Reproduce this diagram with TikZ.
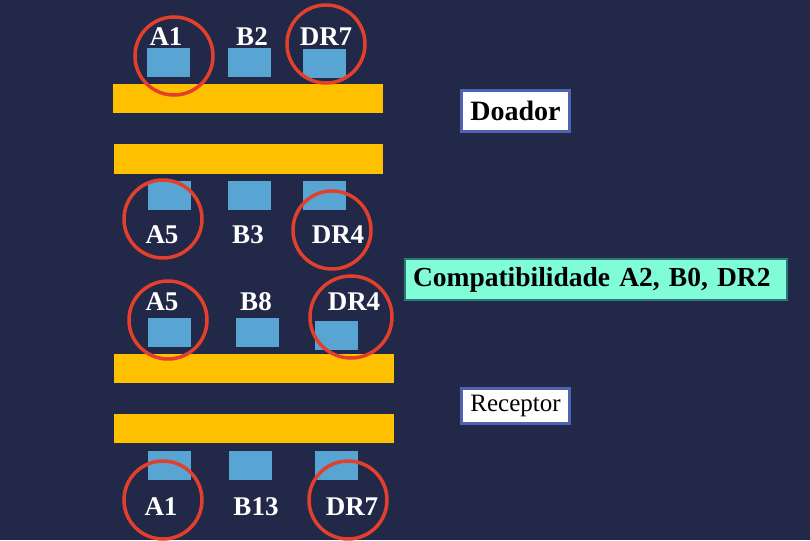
\documentclass[tikz,border=0pt]{standalone}
\usepackage{fontspec}
\setmainfont{Liberation Serif}
\usepackage{tikz}
\usetikzlibrary{shapes,positioning,calc}
\definecolor{fundo}{RGB}{34,40,72}
\definecolor{ouro}{RGB}{255,192,0}
\definecolor{azulhla}{RGB}{88,164,210}
\definecolor{vermelho}{RGB}{226,64,44}
\definecolor{bordaazul}{RGB}{80,98,178}
\definecolor{agua}{RGB}{128,252,214}
\definecolor{bordaagua}{RGB}{44,120,120}
\tikzstyle{barra} = [rectangle, fill=ouro, inner sep=0pt, minimum height=29pt]
\tikzstyle{antigeno} = [rectangle, fill=azulhla, inner sep=0pt, minimum width=43pt, minimum height=29pt]
\tikzstyle{alelo} = [text=white, font=\bfseries\fontsize{27}{27}\selectfont, inner sep=0pt]
\tikzstyle{marca} = [circle, draw=vermelho, line width=3.5pt, minimum size=78pt, inner sep=0pt]
\tikzstyle{rotulo} = [rectangle, fill=white, draw=bordaazul, line width=3pt, minimum width=108pt, inner sep=0pt, text=black]

\begin{document}
\begin{tikzpicture}[x=1pt,y=-1pt]
	\fill[fundo] (0,0) rectangle (810,540);
	\useasboundingbox (0,0) rectangle (810,540);
	% doador
	\node (b1) at (248,98.5) [barra, minimum width=270pt] {};
	\node (b2) at (248.5,159) [barra, minimum width=269pt] {};
	\node (sA1) at (168,62.5) [antigeno] {};
	\node (sB2) at (249,62.5) [antigeno] {};
	\node (sDR7) at (324.5,64) [antigeno] {};
	\node (sA5) at (169.5,195) [antigeno] {};
	\node (sB3) at (249,195) [antigeno] {};
	\node (sDR4) at (324.5,195) [antigeno] {};
	\node (tA1) at (166,37) [alelo] {A1};
	\node (tB2) at (252,37) [alelo] {B2};
	\node (tDR7) at (326,37) [alelo] {DR7};
	\node (tA5) at (162,235) [alelo] {A5};
	\node (tB3) at (248,235) [alelo] {B3};
	\node (tDR4) at (338,235) [alelo] {DR4};
	\node (cA1) at (174,56) [marca] {};
	\node (cDR7) at (326,44) [marca] {};
	\node (cA5) at (163,219) [marca] {};
	\node (cDR4) at (332,230) [marca] {};
	% receptor
	\node (b3) at (254,368.5) [barra, minimum width=280pt] {};
	\node (b4) at (254,428.5) [barra, minimum width=280pt] {};
	\node (rA5) at (169.5,332.5) [antigeno] {};
	\node (rB8) at (257.5,332.5) [antigeno] {};
	\node (rDR4) at (336,335) [antigeno] {};
	\node (rA1) at (169.5,465) [antigeno] {};
	\node (rB13) at (250.5,465) [antigeno] {};
	\node (rDR7) at (336,465) [antigeno] {};
	\node (uA5) at (162,301.5) [alelo] {A5};
	\node (uB8) at (256,301.5) [alelo] {B8};
	\node (uDR4) at (354,301.5) [alelo] {DR4};
	\node (uA1) at (161,507) [alelo] {A1};
	\node (uB13) at (256,507) [alelo] {B13};
	\node (uDR7) at (352,507) [alelo] {DR7};
	\node (kA5) at (168,320) [marca] {};
	\node (kDR4) at (351,317) [marca, minimum size=82pt] {};
	\node (kA1) at (163,500) [marca] {};
	\node (kDR7) at (348,500) [marca] {};
	% caixas
	\node (doador) at (515.5,111) [rotulo, minimum height=41pt, font=\bfseries\fontsize{28}{28}\selectfont] {Doador};
	\node (receptor) at (515.5,406) [rotulo, minimum height=35pt, font=\fontsize{25}{25}\selectfont] {Receptor};
	\node (compat) at (596,279.5) [rectangle, fill=agua, draw=bordaagua, line width=2pt, text width=366pt, align=left, minimum height=41pt, inner ysep=0pt, inner xsep=8pt, font=\bfseries\fontsize{27.5}{27.5}\selectfont] {Compatibilidade A2, B0, DR2};
\end{tikzpicture}
\end{document}
